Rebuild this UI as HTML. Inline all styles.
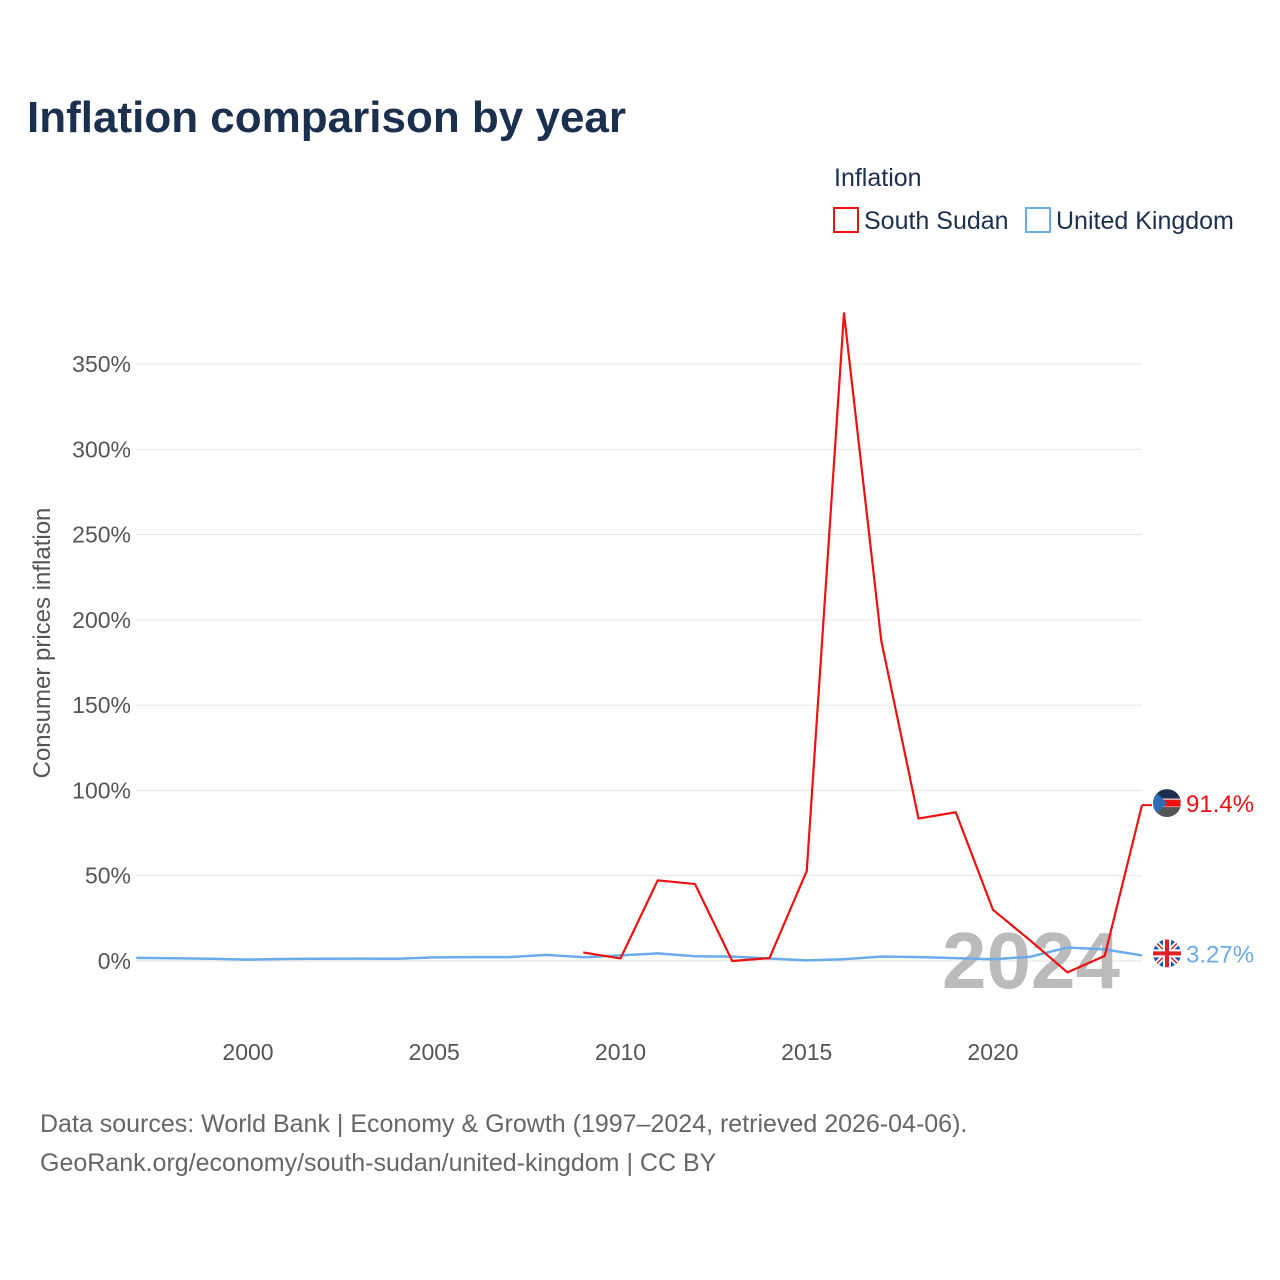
<!DOCTYPE html>
<html><head><meta charset="utf-8"><style>
body{margin:0;background:#fff;font-family:"Liberation Sans",sans-serif;}
#wrap{position:relative;width:1280px;height:1280px;overflow:hidden;}
</style></head><body>
<div id="wrap">
<svg id="chart" width="1280" height="1280">
<text x="27" y="132" font-size="44" font-weight="bold" fill="#1b2f4e">Inflation comparison by year</text>
<text x="834" y="186" font-size="25" fill="#1b2f4e">Inflation</text>
<g><rect x="834" y="208" width="24" height="24" fill="none" stroke="#ee1111" stroke-width="2"/><text x="864" y="229" font-size="25" fill="#1b2f4e">South Sudan</text></g>
<g><rect x="1026" y="208" width="24" height="24" fill="none" stroke="#6aabea" stroke-width="2"/><text x="1056" y="229" font-size="25" fill="#1b2f4e">United Kingdom</text></g>
<text transform="translate(50,643) rotate(-90)" text-anchor="middle" font-size="24" fill="#555">Consumer prices inflation</text>
<g id="grid"></g><g id="ticks"></g>
<text x="1120" y="988" text-anchor="end" font-size="80" font-weight="bold" fill="#bbb">2024</text>
<g id="series"></g>
<text x="40" y="1132" font-size="25" fill="#666">Data sources: World Bank | Economy &amp; Growth (1997–2024, retrieved 2026-04-06).</text>
<text x="40" y="1171" font-size="25" fill="#666">GeoRank.org/economy/south-sudan/united-kingdom | CC BY</text>
</svg>
</div>
<script>
const years=[1997,1998,1999,2000,2001,2002,2003,2004,2005,2006,2007,2008,2009,2010,2011,2012,2013,2014,2015,2016,2017,2018,2019,2020,2021,2022,2023,2024];
const southSudan=[null,null,null,null,null,null,null,null,null,null,null,null,5,1.5,47.3,45.1,0,1.7,52.8,379.8,187.9,83.5,87.2,30,12,-6.7,3,91.4];
const uk=[1.8,1.6,1.3,0.8,1.2,1.3,1.4,1.3,2.1,2.3,2.3,3.6,2.2,3.3,4.5,2.8,2.6,1.5,0.4,1.0,2.6,2.3,1.7,1.0,2.5,7.9,6.8,3.27];
const yTicks=[0,50,100,150,200,250,300,350];
const xTicks=[2000,2005,2010,2015,2020];
const NS="http://www.w3.org/2000/svg";
const xs=y=>136.25+(y-1997)*37.25;
const ys=v=>961-v*1.7057;
function mk(t,a,p){const e=document.createElementNS(NS,t);for(const k in a)e.setAttribute(k,a[k]);p.appendChild(e);return e;}
const grid=document.getElementById('grid'),ticks=document.getElementById('ticks'),ser=document.getElementById('series');
yTicks.forEach(v=>{
 const l=mk('line',{x1:136,x2:1142,y1:ys(v),y2:ys(v),stroke:'#e6e6e6','stroke-width':1},grid);
 
 
 const t=mk('text',{x:131,y:ys(v)+8,'text-anchor':'end','font-size':23,fill:'#555'},ticks);
 t.textContent=v+'%';
 
 
});
xTicks.forEach(y=>{
 const t=mk('text',{x:xs(y),y:1060,'text-anchor':'middle','font-size':23,fill:'#555'},ticks);
 t.textContent=y;
 
 
});
function path(vals){let d='',pen=false;vals.forEach((v,i)=>{if(v==null){pen=false;return;}d+=(pen?'L':'M')+xs(years[i])+','+ys(v);pen=true;});return d;}
const pu=mk('path',{d:path(uk),fill:'none',stroke:'#6aabea','stroke-width':2.5,'stroke-linejoin':'round'},ser);


const ps=mk('path',{d:path(southSudan),fill:'none',stroke:'#ee1111','stroke-width':2.2,'stroke-linejoin':'round'},ser);


const lastS=southSudan[southSudan.length-1],lastU=uk[uk.length-1];
const cn=mk('line',{x1:xs(2024),x2:1152,y1:ys(lastS),y2:ys(lastS),stroke:'#ee1111','stroke-width':2},ser);


const fs=mk('g',{},ser);


const cy1=ys(lastS)-2;
mk('clipPath',{id:'c1'},fs).appendChild(document.createElementNS(NS,'circle')).setAttribute('r',14);
document.querySelector('#c1 circle').setAttribute('cx',1167);document.querySelector('#c1 circle').setAttribute('cy',cy1);
const g1=mk('g',{'clip-path':'url(#c1)'},fs);
mk('rect',{x:1153,y:cy1-14,width:28,height:10,fill:'#1b2f4e'},g1);
mk('rect',{x:1153,y:cy1-4,width:28,height:8,fill:'#ee1111',stroke:'#fff','stroke-width':1},g1);
mk('rect',{x:1153,y:cy1+4,width:28,height:10,fill:'#555'},g1);
mk('polygon',{points:`1153,${cy1-14} 1167,${cy1} 1153,${cy1+14}`,fill:'#2f6db5'},g1);
const t1=mk('text',{x:1186,y:cy1+9,'font-size':24,fill:'#ee1111'},ser);
t1.textContent=lastS+'%';


const cy2=ys(lastU)-2;
const fu=mk('g',{},ser);


mk('clipPath',{id:'c2'},fu).appendChild(document.createElementNS(NS,'circle')).setAttribute('r',14);
document.querySelector('#c2 circle').setAttribute('cx',1167);document.querySelector('#c2 circle').setAttribute('cy',cy2);
const g2=mk('g',{'clip-path':'url(#c2)'},fu);
mk('rect',{x:1153,y:cy2-14,width:28,height:28,fill:'#1f56a8'},g2);
mk('path',{d:`M1153,${cy2-14}L1181,${cy2+14}M1181,${cy2-14}L1153,${cy2+14}`,stroke:'#fff','stroke-width':5},g2);
mk('path',{d:`M1153,${cy2-14}L1181,${cy2+14}M1181,${cy2-14}L1153,${cy2+14}`,stroke:'#e0202a','stroke-width':1.5},g2);
mk('path',{d:`M1167,${cy2-14}V${cy2+14}M1153,${cy2}H1181`,stroke:'#fff','stroke-width':8},g2);
mk('path',{d:`M1167,${cy2-14}V${cy2+14}M1153,${cy2}H1181`,stroke:'#e0202a','stroke-width':4},g2);
const t2=mk('text',{x:1186,y:cy2+9,'font-size':24,fill:'#6aabea'},ser);
t2.textContent=lastU+'%';


</script>
</body></html>
